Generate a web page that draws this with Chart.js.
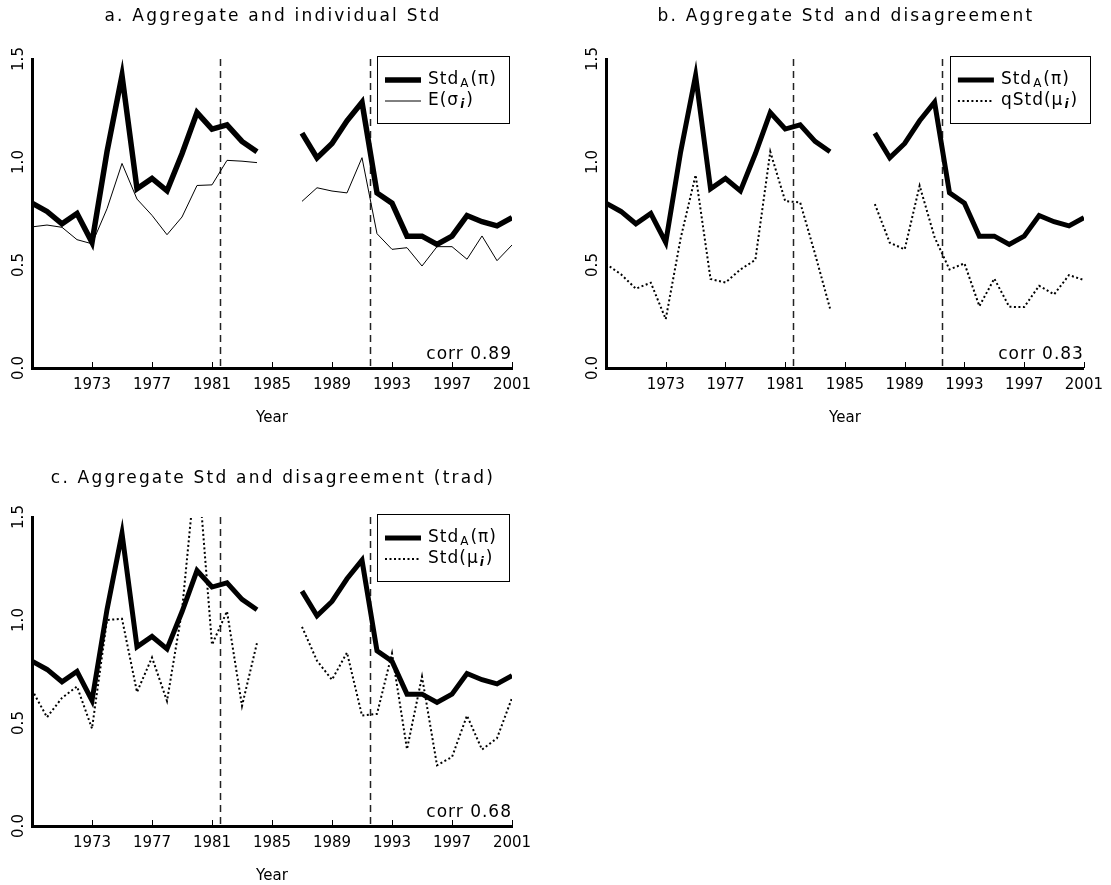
<!DOCTYPE html>
<html>
<head>
<meta charset="utf-8">
<script src="https://cdn.jsdelivr.net/npm/chart.js@4.4.0/dist/chart.umd.min.js"></script>
<style>
  body { margin: 0; background: #fff; width: 1111px; height: 885px; position: relative; overflow: hidden; }
  .panel { position: absolute; }
</style>
</head>
<body>
<div class="panel" style="left:0;top:0"><canvas id="chartA" width="555" height="445"></canvas></div>
<div class="panel" style="left:556px;top:0"><canvas id="chartB" width="555" height="445"></canvas></div>
<div class="panel" style="left:0;top:458px"><canvas id="chartC" width="555" height="445"></canvas></div>
<script>
// data (gap in 1985-1986)
const years = [1969, 1970, 1971, 1972, 1973, 1974, 1975, 1976, 1977, 1978, 1979, 1980, 1981,
  1982, 1983, 1984, 1985, 1986, 1987, 1988, 1989, 1990, 1991, 1992, 1993, 1994, 1995, 1996,
  1997, 1998, 1999, 2000, 2001];

const stdA = [0.80, 0.76, 0.70, 0.75, 0.61, 1.05, 1.42, 0.87, 0.92, 0.86, 1.04, 1.24, 1.16,
  1.18, 1.10, 1.05, null, null, 1.14, 1.02, 1.09, 1.20, 1.29, 0.85, 0.80, 0.64, 0.64, 0.60,
  0.64, 0.74, 0.71, 0.69, 0.73];

const eSigma = [0.685, 0.694, 0.683, 0.623, 0.603, 0.773, 0.993, 0.82, 0.741, 0.647, 0.733,
  0.886, 0.889, 1.008, 1.004, 0.997, null, null, 0.809, 0.875, 0.859, 0.85, 1.021, 0.652,
  0.576, 0.584, 0.495, 0.589, 0.589, 0.528, 0.641, 0.521, 0.597];

const qStdMu = [0.505, 0.455, 0.385, 0.414, 0.237, 0.63, 0.937, 0.432, 0.415, 0.478, 0.525,
  1.05, 0.81, 0.804, 0.553, 0.289, null, null, 0.796, 0.608, 0.576, 0.885, 0.635, 0.478,
  0.508, 0.30, 0.434, 0.297, 0.296, 0.399, 0.357, 0.451, 0.427];

const stdMu = [0.661, 0.528, 0.622, 0.677, 0.473, 1.0, 1.006, 0.65, 0.818, 0.607, 1.045,
  1.80, 0.88, 1.042, 0.583, 0.889, null, null, 0.967, 0.802, 0.71, 0.842, 0.536, 0.544,
  0.838, 0.373, 0.725, 0.295, 0.335, 0.536, 0.371, 0.426, 0.622];

const tickYears = [1973, 1977, 1981, 1985, 1989, 1993, 1997, 2001];
const yTicks = [0, 0.5, 1, 1.5];
const breakYears = [1981.5, 1991.5];

const FONT = '"DejaVu Sans", sans-serif';

function pts(vals) {
  return years.map((yr, i) => ({ x: yr, y: vals[i] }));
}

// draws text pieces with subscripts, e.g. Std_A(pi)
function drawRich(ctx, parts, x, y) {
  parts.forEach(p => {
    if (p.sub) {
      ctx.font = (p.bold ? 'italic bold ' : '') + '12px ' + FONT;
      ctx.fillText(p.t, x, y + 4);
    } else {
      ctx.font = '17px ' + FONT;
      ctx.fillText(p.t, x, y);
    }
    x += ctx.measureText(p.t).width + 1;
  });
}

// titles, rotated y labels, dashed break lines, legend box and corr text
const deco = {
  id: 'deco',
  beforeDatasetsDraw(chart, args, o) {
    const { ctx, chartArea: a, scales: { x } } = chart;
    ctx.save();
    ctx.strokeStyle = '#222';
    ctx.lineWidth = 1.5;
    ctx.setLineDash([7, 5]);
    breakYears.forEach(b => {
      const px = Math.round(x.getPixelForValue(b)) + 0.5;
      ctx.beginPath();
      ctx.moveTo(px, a.top);
      ctx.lineTo(px, a.bottom);
      ctx.stroke();
    });
    ctx.restore();
  },
  afterDraw(chart, args, o) {
    const { ctx, chartArea: a, scales: { x, y } } = chart;
    ctx.save();
    ctx.fillStyle = '#000';
    ctx.textAlign = 'center';
    ctx.textBaseline = 'middle';

    ctx.font = '17px ' + FONT;
    ctx.letterSpacing = '2.2px';
    ctx.fillText(o.title, (a.left + a.right) / 2 + 1, a.top - o.titleGap);

    ctx.font = '15px ' + FONT;
    ctx.letterSpacing = '0px';
    yTicks.forEach(v => {
      ctx.save();
      ctx.translate(a.left - 13, y.getPixelForValue(v));
      ctx.rotate(-Math.PI / 2);
      ctx.fillText(v.toFixed(1), 0, 0);
      ctx.restore();
    });

    // small tick marks pointing up into the plot
    ctx.strokeStyle = '#000';
    ctx.lineWidth = 1;
    tickYears.forEach(t => {
      const px = Math.round(x.getPixelForValue(t)) + 0.5;
      ctx.beginPath();
      ctx.moveTo(px, a.bottom);
      ctx.lineTo(px, a.bottom - 6);
      ctx.stroke();
    });

    ctx.font = '17px ' + FONT;
    ctx.letterSpacing = '1px';
    ctx.textAlign = 'right';
    ctx.textBaseline = 'alphabetic';
    ctx.fillText(o.corr, a.right, a.bottom - 9);

    // legend
    const lx = a.right + o.legendX;
    const ly = a.top - 3;
    ctx.lineWidth = 1;
    ctx.strokeRect(Math.round(lx) + 0.5, Math.round(ly) + 0.5, o.legendW, 67);
    ctx.textAlign = 'left';
    ctx.textBaseline = 'middle';
    o.legendText.forEach((parts, i) => {
      const ds = chart.data.datasets[i];
      const ry = ly + 24 + i * 21;
      ctx.save();
      ctx.strokeStyle = '#000';
      ctx.lineWidth = ds.borderWidth;
      ctx.setLineDash(ds.borderDash || []);
      ctx.beginPath();
      ctx.moveTo(lx + 8, ry);
      ctx.lineTo(lx + 44, ry);
      ctx.stroke();
      ctx.restore();
      drawRich(ctx, parts, lx + 51, ry);
    });
    ctx.restore();
  }
};

const stdALegend = [{ t: 'Std' }, { t: 'A', sub: true }, { t: '(π)' }];

function makeChart(id, opts) {
  const datasets = [
    {
      data: pts(stdA),
      borderColor: '#000',
      borderWidth: opts.thick,
      borderJoinStyle: 'miter',
      pointRadius: 0,
      spanGaps: false
    },
    Object.assign({
      data: pts(opts.second),
      borderColor: '#000',
      pointRadius: 0,
      spanGaps: false
    }, opts.secondStyle)
  ];

  return new Chart(document.getElementById(id), {
    type: 'line',
    data: { datasets: datasets },
    options: {
      responsive: false,
      animation: false,
      devicePixelRatio: 1,
      layout: { padding: { left: opts.padLeft, right: opts.padRight, top: 59, bottom: 18 } },
      scales: {
        x: {
          type: 'linear',
          min: 1969,
          max: 2001,
          afterBuildTicks: scale => { scale.ticks = tickYears.map(v => ({ value: v })); },
          ticks: {
            color: '#000',
            padding: 8,
            font: { family: FONT, size: 15 },
            maxRotation: 0,
            callback: v => String(v)
          },
          grid: { display: false, drawTicks: false },
          border: { display: true, color: '#000', width: 3 },
          title: {
            display: true,
            text: 'Year',
            color: '#000',
            font: { family: FONT, size: 15 },
            padding: { top: 7, bottom: 0 }
          }
        },
        y: {
          min: 0,
          max: 1.5,
          ticks: { display: false },
          grid: { display: false, drawTicks: false },
          border: { display: true, color: '#000', width: 3 }
        }
      },
      plugins: {
        legend: { display: false },
        tooltip: { enabled: false },
        deco: {
          title: opts.title,
          titleGap: opts.titleGap,
          corr: opts.corr,
          legendX: opts.legendX,
          legendW: opts.legendW,
          legendText: [stdALegend, opts.secondLegend]
        }
      }
    },
    plugins: [deco]
  });
}

makeChart('chartA', {
  title: 'a. Aggregate and individual Std',
  titleGap: 42,
  corr: 'corr 0.89',
  thick: 5.5,
  second: eSigma,
  secondStyle: { borderWidth: 1 },
  secondLegend: [{ t: 'E(σ' }, { t: 'i', sub: true, bold: true }, { t: ')' }],
  padLeft: 32,
  padRight: 43,
  legendX: -135,
  legendW: 132
});

makeChart('chartB', {
  title: 'b. Aggregate Std and disagreement',
  titleGap: 42,
  corr: 'corr 0.83',
  thick: 5,
  second: qStdMu,
  secondStyle: { borderWidth: 2, borderDash: [2, 2.5] },
  secondLegend: [{ t: 'qStd(μ' }, { t: 'i', sub: true, bold: true }, { t: ')' }],
  padLeft: 50,
  padRight: 25,
  legendX: -134,
  legendW: 140
});

makeChart('chartC', {
  title: 'c. Aggregate Std and disagreement (trad)',
  titleGap: 38,
  corr: 'corr 0.68',
  thick: 5,
  second: stdMu,
  secondStyle: { borderWidth: 2, borderDash: [2, 2.5] },
  secondLegend: [{ t: 'Std(μ' }, { t: 'i', sub: true, bold: true }, { t: ')' }],
  padLeft: 32,
  padRight: 43,
  legendX: -135,
  legendW: 132
});
</script>
</body>
</html>
